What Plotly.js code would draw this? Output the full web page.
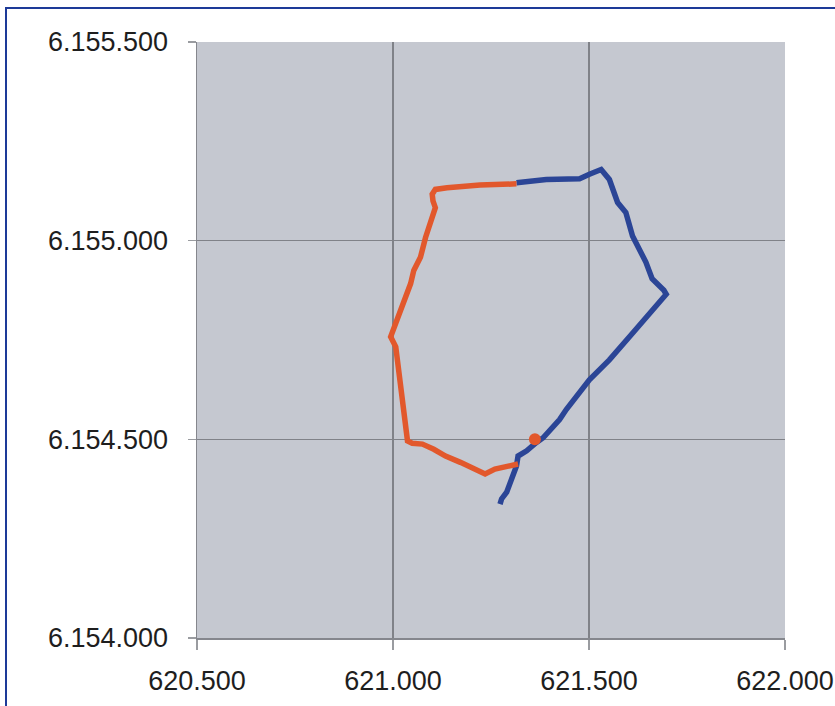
<!DOCTYPE html>
<html>
<head>
<meta charset="utf-8">
<script src="https://cdn.plot.ly/plotly-3.0.1.min.js"></script>
<style>
html,body{margin:0;padding:0;background:#fff;overflow:hidden;}
#chart{width:835px;height:706px;position:absolute;left:0;top:0;}
#frame{position:absolute;left:5px;top:7px;width:900px;height:800px;border-left:2px solid #1d3a98;border-top:2px solid #1d3a98;pointer-events:none;}
</style>
</head>
<body>
<div id="chart"></div>
<div id="frame"></div>
<script>
// Blue track (east/north coordinates in metres)
var blueX = [621273,621277,621290,621303,621315,621319,621341,621366,621383,621425,621442,621501,621552,621611,621661,621697,621691,621661,621645,621628,621611,621594,621573,621552,621531,621501,621476,621391,621315];
var blueY = [6154337,6154350,6154367,6154400,6154433,6154458,6154471,6154492,6154504,6154550,6154575,6154650,6154700,6154767,6154825,6154865,6154875,6154904,6154946,6154979,6155012,6155071,6155096,6155154,6155179,6155167,6155156,6155154,6155146];
// Orange track
var orangeX = [621315,621222,621138,621108,621100,621102,621108,621096,621083,621070,621053,621045,621028,621011,621003,620994,621007,621011,621020,621028,621037,621049,621075,621104,621134,621172,621205,621235,621260,621290,621319];
var orangeY = [6155143,6155140,6155133,6155129,6155117,6155100,6155083,6155050,6155008,6154958,6154925,6154892,6154850,6154808,6154783,6154758,6154733,6154700,6154625,6154542,6154496,6154490,6154488,6154475,6154458,6154442,6154425,6154413,6154425,6154432,6154438];
// Single orange point
var dotX = [621362];
var dotY = [6154500];
// Axis ticks
var xTicks = [620500,621000,621500,622000];
var yTicks = [6154000,6154500,6155000,6155500];

var traces = [
  {x: blueX, y: blueY, type:'scatter', mode:'lines', line:{color:'#2b4596', width:5.5}, hoverinfo:'skip'},
  {x: orangeX, y: orangeY, type:'scatter', mode:'lines', line:{color:'#e2582c', width:5.5}, hoverinfo:'skip'},
  {x: dotX, y: dotY, type:'scatter', mode:'markers', marker:{color:'#e2582c', size:12}, hoverinfo:'skip'}
];

var tickFont = {family:'"Liberation Sans", Arial, sans-serif', size:27, color:'#1e1e1e'};

var layout = {
  width:835, height:706,
  margin:{l:197, r:50, t:42, b:68, pad:0},
  paper_bgcolor:'rgba(0,0,0,0)',
  plot_bgcolor:'#c5c8d0',
  showlegend:false,
  separators:',.',
  xaxis:{
    range:[620500,622000], tickvals:xTicks, tickformat:',d',
    showgrid:true, gridcolor:'#808288', gridwidth:1.2,
    showline:true, linecolor:'#85878d', linewidth:1.5,
    ticks:'outside', ticklen:10, tickcolor:'#9a9ca0', tickwidth:1.5,
    tickfont:tickFont, zeroline:false, ticklabelstandoff:8
  },
  yaxis:{
    range:[6154000,6155500], tickvals:yTicks, tickformat:',d',
    showgrid:true, gridcolor:'#808288', gridwidth:1.2,
    showline:true, linecolor:'#85878d', linewidth:1.5,
    ticks:'outside', ticklen:8, tickcolor:'#9a9ca0', tickwidth:1.5,
    tickfont:tickFont, zeroline:false, ticklabelstandoff:14
  }
};

Plotly.newPlot('chart', traces, layout, {staticPlot:true, displayModeBar:false});
</script>
</body>
</html>
